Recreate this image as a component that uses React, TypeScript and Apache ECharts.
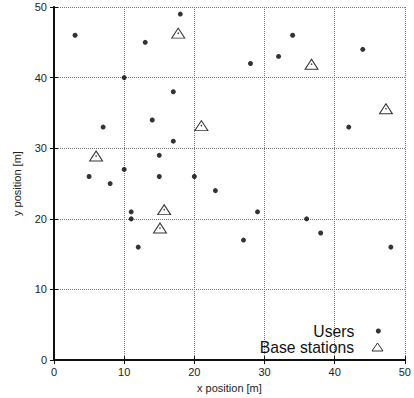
import React, { useEffect, useRef } from "react";
import * as echarts from "echarts";

const userX = [3, 18, 13, 10, 17, 7, 14, 17, 15, 10, 5, 8, 15, 20, 28, 32, 34, 44, 42, 23, 11, 11, 12, 29, 27, 36, 38, 48];
const userY = [46, 49, 45, 40, 38, 33, 34, 31, 29, 27, 26, 25, 26, 26, 42, 43, 46, 44, 33, 24, 21, 20, 16, 21, 17, 20, 18, 16];
const bsX = [17.7, 21.0, 6.0, 36.7, 47.3, 15.7, 15.1];
const bsY = [46.3, 33.2, 28.9, 41.9, 35.6, 21.3, 18.7];
const axisTicks = [0, 10, 20, 30, 40, 50];

const FONT = "Liberation Sans, Arial, Helvetica, sans-serif";

export default function App() {
  const ref = useRef<HTMLDivElement>(null);
  useEffect(() => {
    if (!ref.current) return;
    const chart = echarts.init(ref.current, undefined, { renderer: "svg" });
    const users = userX.map((x, i) => [x, userY[i]]);
    const bs = bsX.map((x, i) => [x, bsY[i]]);
    const min = axisTicks[0];
    const max = axisTicks[axisTicks.length - 1];
    const interval = axisTicks[1] - axisTicks[0];
    const baseAxis = {
      type: "value" as const,
      min,
      max,
      interval,
    };
    const mainAxisCommon = {
      ...baseAxis,
      axisLine: { show: true, lineStyle: { color: "#111", width: 2 } },
      axisTick: { show: true, inside: true, length: 4, lineStyle: { color: "#111", width: 1 } },
      axisLabel: { color: "#222", fontSize: 11, fontFamily: FONT },
      splitLine: { show: true, lineStyle: { color: "#777", type: [1, 1] as any, width: 1 } },
      nameLocation: "middle" as const,
      nameTextStyle: { color: "#222", fontSize: 11, fontFamily: FONT },
    };
    const secondaryAxis = {
      ...baseAxis,
      axisLine: { show: true, lineStyle: { color: "#111", width: 1.5 } },
      axisTick: { show: true, inside: true, length: 4, lineStyle: { color: "#111", width: 1 } },
      axisLabel: { show: false },
      splitLine: { show: false },
    };
    chart.setOption({
      animation: false,
      backgroundColor: "#fff",
      grid: { left: 54, right: 6, top: 7, bottom: 37, containLabel: false },
      xAxis: [
        { ...mainAxisCommon, position: "bottom", name: "x position [m]", nameGap: 15, axisLabel: { ...mainAxisCommon.axisLabel, margin: 6 } },
        { ...secondaryAxis, position: "top" },
      ],
      yAxis: [
        { ...mainAxisCommon, position: "left", name: "y position [m]", nameGap: 32, axisLabel: { ...mainAxisCommon.axisLabel, margin: 7 } },
        { ...secondaryAxis, position: "right" },
      ],
      legend: [
        {
          data: [{ name: "Users", icon: "circle" }],
          right: 33.2,
          top: 323,
          align: "right",
          itemWidth: 5,
          itemHeight: 5,
          padding: 0,
          selectedMode: false,
          textStyle: { color: "#111", fontSize: 15.7, fontFamily: FONT, padding: [0, 16.5, 0, 0] },
        },
        {
          data: [{ name: "Base stations", icon: "triangle" }],
          right: 30.5,
          top: 339,
          align: "right",
          itemWidth: 11,
          itemHeight: 8,
          padding: 0,
          selectedMode: false,
          itemStyle: { color: "#fff", borderColor: "#000", borderWidth: 1 },
          textStyle: { color: "#111", fontSize: 15.7, fontFamily: FONT, padding: [0, 13, 0, 0] },
        },
      ],
      series: [
        {
          name: "Users",
          type: "scatter",
          data: users,
          symbol: "circle",
          symbolSize: 5,
          itemStyle: { color: "#000" },
        },
        {
          name: "Base stations",
          type: "scatter",
          data: bs,
          symbol: "triangle",
          symbolSize: [13, 10],
          itemStyle: { color: "#fff", borderColor: "#000", borderWidth: 1 },
          z: 3,
        },
        {
          name: "bs-center",
          type: "scatter",
          data: bs,
          symbol: "circle",
          symbolSize: 1.5,
          itemStyle: { color: "#000" },
          silent: true,
          z: 4,
        },
      ],
    });
    return () => chart.dispose();
  }, []);
  return <div ref={ref} style={{ width: 414, height: 398, position: "absolute", left: 0, top: 0 }} />;
}
